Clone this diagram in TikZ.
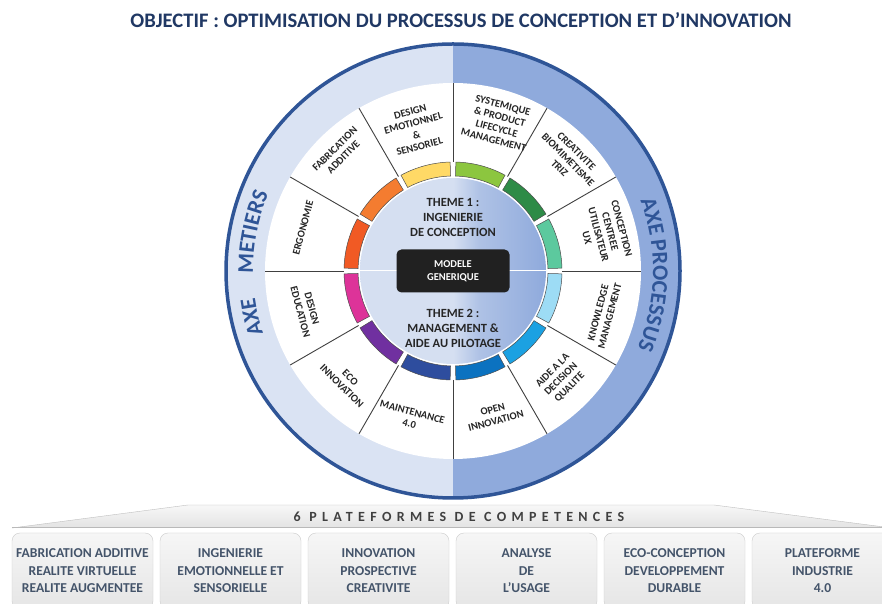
\documentclass[tikz,border=0pt]{standalone}
\usepackage{fontspec}
\setmainfont{Carlito}
\usetikzlibrary{positioning, decorations.text, shapes.geometric}
\definecolor{titleblue}{HTML}{203864}
\definecolor{axeblue}{HTML}{2F5597}
\definecolor{lightring}{HTML}{DAE3F3}
\definecolor{midring}{HTML}{8FAADC}
\definecolor{discl}{HTML}{D5DFF1}
\definecolor{discm}{HTML}{8FAADC}
\definecolor{boxtext}{HTML}{44546A}
\definecolor{arcyellow}{HTML}{FFD966}
\definecolor{arclgreen}{HTML}{8CC63F}
\definecolor{arcdgreen}{HTML}{2E8B47}
\definecolor{arcmint}{HTML}{5CC99E}
\definecolor{arclblue}{HTML}{9DDCF5}
\definecolor{arcazure}{HTML}{1BA1E2}
\definecolor{arcblue}{HTML}{0B72C0}
\definecolor{arcnavy}{HTML}{2E4D9E}
\definecolor{arcpurple}{HTML}{7030A0}
\definecolor{arcmagenta}{HTML}{DD3399}
\definecolor{arcred}{HTML}{F15A24}
\definecolor{arcorange}{HTML}{F47C30}
\pgfdeclarehorizontalshading{discshade}{100bp}{color(0bp)=(discl); color(25bp)=(discl); color(50bp)=(discl); color(57bp)=(discm!55!discl); color(75bp)=(discm); color(100bp)=(discm)}
\newcommand\axefont{\fontsize{22.5}{22.5}\selectfont\bfseries\color{axeblue}}
\tikzstyle{sector} = [font=\fontsize{10.5}{12}\selectfont\bfseries, align=center, text=black!85, inner sep=0pt]
\tikzstyle{theme} = [font=\fontsize{12.5}{15}\selectfont\bfseries, align=center, text=black!85]
\tikzstyle{segment} = [draw=black!70, line width=0.5]
\tikzstyle{divider} = [draw=black!75, line width=0.9]
\tikzstyle{platform} = [rectangle, rounded corners=8, minimum width=141, minimum height=76, top color=gray!7, bottom color=gray!20, draw=gray!40, text=boxtext, font=\fontsize{13.6}{17.5}\selectfont\bfseries, align=center]
\tikzset{axe/.style={decorate, decoration={text along path, text align=center, text={|\axefont|#1}}}}

\begin{document}
\begin{tikzpicture}[x=1pt, y=1pt, node distance=148pt]
\useasboundingbox (0,0) rectangle (882,604);
\fill[white] (0,0) rectangle (882,604);
\clip (0,0) rectangle (882,604);
\node (objectif) at (461,584) [font=\fontsize{20.6}{24}\selectfont\bfseries, text=titleblue] {OBJECTIF : OPTIMISATION DU PROCESSUS DE CONCEPTION ET D’INNOVATION};
\begin{scope}[shift={(453,333)}]
\fill[lightring] (90:227) arc[start angle=90, end angle=270, radius=227] -- cycle;
\fill[midring] (-90:227) arc[start angle=-90, end angle=90, radius=227] -- cycle;
\draw[axeblue, line width=3.5] (0,0) circle[radius=227];
\fill[white] (0,0) circle[radius=188];
\foreach \a in {0,30,...,330} \draw[divider] (\a:109) -- (\a:188);
\foreach \a/\c in {105/arcyellow, 75/arclgreen, 45/arcdgreen, 15/arcmint, -15/arclblue, -45/arcazure, -75/arcblue, -105/arcnavy, -135/arcpurple, -165/arcmagenta, 165/arcred, 135/arcorange}
  \draw[segment, fill=\c] (\a-13.5:95) arc[start angle=\a-13.5, end angle=\a+13.5, radius=95] -- (\a+13.5:109) arc[start angle=\a+13.5, end angle=\a-13.5, radius=109] -- cycle;
\shade[shading=discshade] (0,0) circle[radius=93];
\draw[white, line width=1] (180:93) -- (0:93);
\node (modele) at (0,0) [rectangle, rounded corners=5, fill=black!87, text=white, minimum width=113, minimum height=43, font=\fontsize{10.5}{12.5}\selectfont\bfseries, align=center] {MODELE\\GENERIQUE};
\node (theme1) [theme] at (0,54) {THEME 1 :\\INGENIERIE\\DE CONCEPTION};
\node (theme2) [theme] at (0,-57) {THEME 2 :\\MANAGEMENT \&\\AIDE AU PILOTAGE};
\node (design) [sector, rotate=15] at (105:147) {DESIGN\\EMOTIONNEL\\\&\\SENSORIEL};
\node (systemique) [sector, rotate=-15] at (73:155) {SYSTEMIQUE\\\& PRODUCT\\LIFECYCLE\\MANAGEMENT};
\node (creativite) [sector, rotate=-45] at (44:160) {CREATIVITE\\BIOMIMETISME\\TRIZ};
\node (conception) [sector, rotate=-75] at (14:156) {CONCEPTION\\CENTREE\\UTILISATEUR\\UX};
\node (knowledge) [sector, rotate=75] at (-16:157) {KNOWLEDGE\\MANAGEMENT};
\node (aide) [sector, rotate=45] at (-45:153) {AIDE A LA\\DECISION\\QUALITE};
\node (open) [sector, rotate=15] at (-74:150) {OPEN\\INNOVATION};
\node (maintenance) [sector, rotate=-15] at (-106:153) {MAINTENANCE\\4.0};
\node (eco) [sector, rotate=-45] at (-134:154) {ECO\\INNOVATION};
\node (education) [sector, rotate=-75] at (195:152) {DESIGN\\EDUCATION};
\node (ergonomie) [sector, rotate=75] at (164:156) {ERGONOMIE};
\node (fabrication) [sector, rotate=45] at (134:164) {FABRICATION\\ADDITIVE};
\path[axe={AXE}] (205:200) arc[start angle=205, end angle=181, radius=200];
\path[axe={METIERS}] (192:200) arc[start angle=192, end angle=146, radius=200];
\path[axe={AXE PROCESSUS}] (44:200) arc[start angle=44, end angle=-46, radius=200];
\end{scope}
\shade[top color=gray!6, bottom color=gray!22] (12,76) -- (188,99) -- (714,99) -- (892,76) -- cycle;
\draw[gray!50] (12,76) -- (188,99) -- (714,99) -- (892,76);
\draw[gray!55, line width=1] (12,76) -- (892,76);
\node (banner) at (459,87) [font=\fontsize{14}{16}\selectfont\bfseries\addfontfeature{LetterSpace=38}, text=black!75] {6 PLATEFORMES DE COMPETENCES};
\node (plat1) [platform] at (82.5,33) {FABRICATION ADDITIVE\\REALITE VIRTUELLE\\REALITE AUGMENTEE};
\node (plat2) [platform, right of=plat1] {INGENIERIE\\EMOTIONNELLE ET\\SENSORIELLE};
\node (plat3) [platform, right of=plat2] {INNOVATION\\PROSPECTIVE\\CREATIVITE};
\node (plat4) [platform, right of=plat3] {ANALYSE\\DE\\L’USAGE};
\node (plat5) [platform, right of=plat4] {ECO-CONCEPTION\\DEVELOPPEMENT\\DURABLE};
\node (plat6) [platform, right of=plat5] {PLATEFORME\\INDUSTRIE\\4.0};
\end{tikzpicture}
\end{document}
